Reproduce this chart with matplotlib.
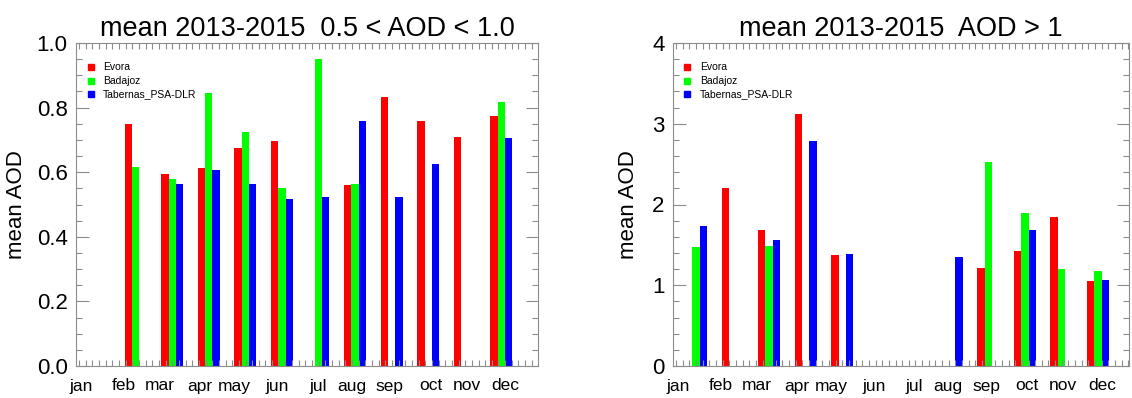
import numpy as np
import matplotlib
matplotlib.use("Agg")
import matplotlib.pyplot as plt
from matplotlib.ticker import MultipleLocator, FixedLocator

plt.rcParams['font.family'] = ['Liberation Sans', 'DejaVu Sans']

months = ['jan', 'feb', 'mar', 'apr', 'may', 'jun', 'jul', 'aug', 'sep', 'oct', 'nov', 'dec']
stations = ['Evora', 'Badajoz', 'Tabernas_PSA-DLR']
colors = ['#ff0000', '#00ff00', '#0000ff']

nan = np.nan
# 0.5 < AOD < 1.0
evora_mid = [nan, 0.749, 0.593, 0.613, 0.675, 0.696, nan, 0.560, 0.834, 0.759, 0.710, 0.775]
badajoz_mid = [nan, 0.617, 0.578, 0.844, 0.726, 0.551, 0.949, 0.565, nan, nan, nan, 0.817]
tabernas_mid = [nan, nan, 0.563, 0.607, 0.563, 0.517, 0.522, 0.759, 0.523, 0.624, nan, 0.706]
# AOD > 1
evora_high = [nan, 2.20, 1.685, 3.12, 1.375, nan, nan, nan, 1.215, 1.42, 1.84, 1.047]
badajoz_high = [1.47, nan, 1.48, nan, nan, nan, nan, nan, 2.53, 1.89, 1.20, 1.174]
tabernas_high = [1.73, nan, 1.565, 2.785, 1.387, nan, nan, 1.35, nan, 1.685, nan, 1.063]

# where the month names sit along the axis (month units)
month_label_pos = [-0.48, 0.675, 1.66, 2.75, 3.71, 4.88, 5.98, 6.9, 7.94, 9.06, 10.05, 11.11]

frame = '#8c8c8c'

fig = plt.figure(figsize=(11.32, 3.98), dpi=100)
ax1 = fig.add_axes([76 / 1132, 32 / 398, 462 / 1132, 323 / 398])
ax2 = fig.add_axes([673 / 1132, 32 / 398, 456 / 1132, 323 / 398])


def draw(ax, series, title, ymax, ymajor, yminor, fmt, xmax, ylab_x):
    x = np.arange(len(months))
    for k, (vals, c) in enumerate(zip(series, colors)):
        ax.bar(x + (k - 1) * 0.2, np.array(vals, dtype=float), width=0.2, color=c, linewidth=0)

    ax.set_xlim(-0.63, xmax)
    ax.set_ylim(0, ymax)

    ax.xaxis.set_major_locator(FixedLocator(month_label_pos))
    ax.set_xticklabels(months)
    ax.xaxis.set_minor_locator(MultipleLocator(0.182))
    ax.tick_params(axis='x', which='major', length=0, pad=9, labelsize=12.5)
    ax.tick_params(axis='x', which='minor', direction='in', length=4, top=True,
                   bottom=True, color=frame, width=0.8)

    ax.yaxis.set_major_locator(MultipleLocator(ymajor))
    ax.yaxis.set_minor_locator(MultipleLocator(yminor))
    ax.yaxis.set_major_formatter(plt.FormatStrFormatter(fmt))
    ax.tick_params(axis='y', which='major', direction='in', length=9, left=True,
                   right=True, color=frame, width=0.8, labelsize=16, pad=6)
    ax.tick_params(axis='y', which='minor', direction='in', length=4, left=True,
                   right=True, color=frame, width=0.8)

    for sp in ax.spines.values():
        sp.set_color(frame)
        sp.set_linewidth(0.8)

    ax.set_title(title, fontsize=19.5, pad=5)
    ax.set_ylabel('mean AOD', fontsize=16)
    ax.yaxis.set_label_coords(ylab_x, 0.5)

    # small legend: coloured squares with station names
    for k, (name, c) in enumerate(zip(stations, colors)):
        yy = 1 - (24 + 13.5 * k) / 323
        ax.plot([14.5 / 462], [yy], marker='s', ms=4.5, color=c,
                transform=ax.transAxes, clip_on=False, linestyle='none')
        ax.text(27 / 462, yy, name, fontsize=7.5, va='center', ha='left',
                transform=ax.transAxes)


draw(ax1, [evora_mid, badajoz_mid, tabernas_mid],
     'mean 2013-2015  0.5 < AOD < 1.0', 1.0, 0.2, 0.05, '%.1f', 12.0, -0.105)
draw(ax2, [evora_high, badajoz_high, tabernas_high],
     'mean 2013-2015  AOD > 1', 4.0, 1.0, 0.2, '%d', 11.85, -0.075)

fig.savefig('out.png', dpi=100)
